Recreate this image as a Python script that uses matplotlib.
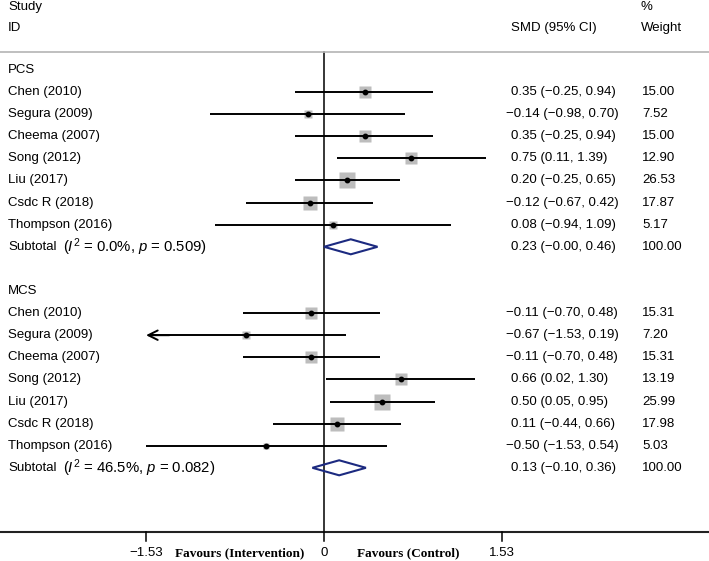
import numpy as np
import matplotlib
matplotlib.use("Agg")
import matplotlib.pyplot as plt
from matplotlib.patches import Polygon

# study data
studies = ["Chen (2010)", "Segura (2009)", "Cheema (2007)", "Song (2012)",
           "Liu (2017)", "Csdc R (2018)", "Thompson (2016)"]

pcs_smd = [0.35, -0.14, 0.35, 0.75, 0.20, -0.12, 0.08]
pcs_lo = [-0.25, -0.98, -0.25, 0.11, -0.25, -0.67, -0.94]
pcs_hi = [0.94, 0.70, 0.94, 1.39, 0.65, 0.42, 1.09]
pcs_w = [15.00, 7.52, 15.00, 12.90, 26.53, 17.87, 5.17]
pcs_sub = (0.23, -0.00, 0.46)
pcs_het = "0.0%", "0.509"

mcs_smd = [-0.11, -0.67, -0.11, 0.66, 0.50, 0.11, -0.50]
mcs_lo = [-0.70, -1.53, -0.70, 0.02, 0.05, -0.44, -1.53]
mcs_hi = [0.48, 0.19, 0.48, 1.30, 0.95, 0.66, 0.54]
mcs_w = [15.31, 7.20, 15.31, 13.19, 25.99, 17.98, 5.03]
mcs_sub = (0.13, -0.10, 0.36)
mcs_het = "46.5%", "0.082"
mcs_arrow = [False, True, False, False, False, False, False]

ticks = [-1.53, 0, 1.53]

plt.rcParams['font.family'] = ['Liberation Sans', 'DejaVu Sans']
plt.rcParams['mathtext.fontset'] = 'custom'
plt.rcParams['mathtext.it'] = 'Liberation Sans:italic'
plt.rcParams['mathtext.rm'] = 'Liberation Sans'
FS = 9.5

fig = plt.figure(figsize=(7.09, 5.61), dpi=100)
ax = fig.add_axes([0, 0, 1, 1])
ax.set_xlim(-2.786, 3.310)
ax.set_ylim(22.217, -3.167)
ax.axis("off")

tr = ax.get_yaxis_transform()
x_lab, x_smd, x_smd_neg, x_w = 0.0113, 0.721, 0.714, 0.906


def fmt(v):
    s = "%.2f" % v
    if s.startswith("-"):
        s = "\u2212" + s[1:]
    return s


# header
ax.text(x_lab, -2.85, "Study", transform=tr, fontsize=FS, va="center")
ax.text(x_lab, -1.90, "ID", transform=tr, fontsize=FS, va="center")
ax.text(x_smd, -1.90, "SMD (95% CI)", transform=tr, fontsize=FS, va="center")
ax.text(0.904, -2.85, "%", transform=tr, fontsize=FS, va="center")
ax.text(0.904, -1.90, "Weight", transform=tr, fontsize=FS, va="center")
ax.plot([0, 1], [-0.814, -0.814], transform=tr, color="#b4b4b4", lw=1.2,
        solid_capstyle="butt")


def draw_group(start, name, smd, lo, hi, w, sub, het, arrows=None):
    ax.text(x_lab, start, name, transform=tr, fontsize=FS, va="center")
    for i in range(len(studies)):
        r = start + 1 + i
        ax.text(x_lab, r, studies[i], transform=tr, fontsize=FS, va="center")
        if arrows is not None and arrows[i]:
            ax.plot([lo[i] + 0.02, hi[i]], [r, r], color="black", lw=1.4,
                    solid_capstyle="butt", zorder=3)
            ax.annotate("", xy=(lo[i], r), xytext=(lo[i] + 0.2, r),
                        arrowprops=dict(arrowstyle="->", lw=1.4, color="black",
                                        mutation_scale=17, shrinkA=0, shrinkB=0),
                        zorder=3)
        else:
            ax.plot([lo[i], hi[i]], [r, r], color="black", lw=1.4,
                    solid_capstyle="butt", zorder=3)
        ax.plot(smd[i], r, marker="s", ms=2.23 * np.sqrt(w[i]), color="#bdbdbd",
                mec="none", zorder=2)
        ax.plot(smd[i], r, marker="o", ms=3.2, color="black", zorder=4)
        s = "%s (%s, %s)" % (fmt(smd[i]), fmt(lo[i]), fmt(hi[i]))
        ax.text(x_smd_neg if smd[i] < 0 else x_smd, r, s, transform=tr,
                fontsize=FS, va="center")
        ax.text(x_w, r, "%.2f" % w[i], transform=tr, fontsize=FS, va="center")
    r = start + 1 + len(studies)
    est, l, h = sub
    dh = 0.34
    ax.add_patch(Polygon([[l, r], [est, r - dh], [h, r], [est, r + dh]],
                         closed=True, fill=False, ec="#1c2a80", lw=1.5, zorder=5))
    ax.text(x_lab, r, "Subtotal", transform=tr, fontsize=FS, va="center")
    ax.text(0.0885, r, "($\\mathit{I}^2$ = %s, $\\mathit{p}$ = %s)" % het,
            transform=tr, fontsize=10.7, va="center")
    ax.text(x_smd, r, "%s (%s, %s)" % (fmt(est), fmt(l), fmt(h)), transform=tr,
            fontsize=FS, va="center")
    ax.text(x_w, r, "100.00", transform=tr, fontsize=FS, va="center")


draw_group(0, "PCS", pcs_smd, pcs_lo, pcs_hi, pcs_w, pcs_sub, pcs_het)
draw_group(10, "MCS", mcs_smd, mcs_lo, mcs_hi, mcs_w, mcs_sub, mcs_het, mcs_arrow)

# null line and axis
y_axis = 20.9
ax.plot([0, 0], [-0.814, y_axis], color="black", lw=1.1, zorder=1)
ax.plot([0, 1], [y_axis, y_axis], transform=tr, color="#222222", lw=1.5,
        solid_capstyle="butt")
for t in ticks:
    ax.plot([t, t], [y_axis, y_axis + 0.4], color="black", lw=1.1)
    ax.text(t, 21.86, fmt(t) if t != 0 else "0", fontsize=FS, ha="center",
            va="center")

ax.text(-0.725, 21.86, "Favours (Intervention)", fontsize=FS, ha="center",
        va="center", family=["Liberation Serif"], weight="bold")
ax.text(0.725, 21.86, "Favours (Control)", fontsize=FS, ha="center",
        va="center", family=["Liberation Serif"], weight="bold")

fig.savefig("out.png", dpi=100)
